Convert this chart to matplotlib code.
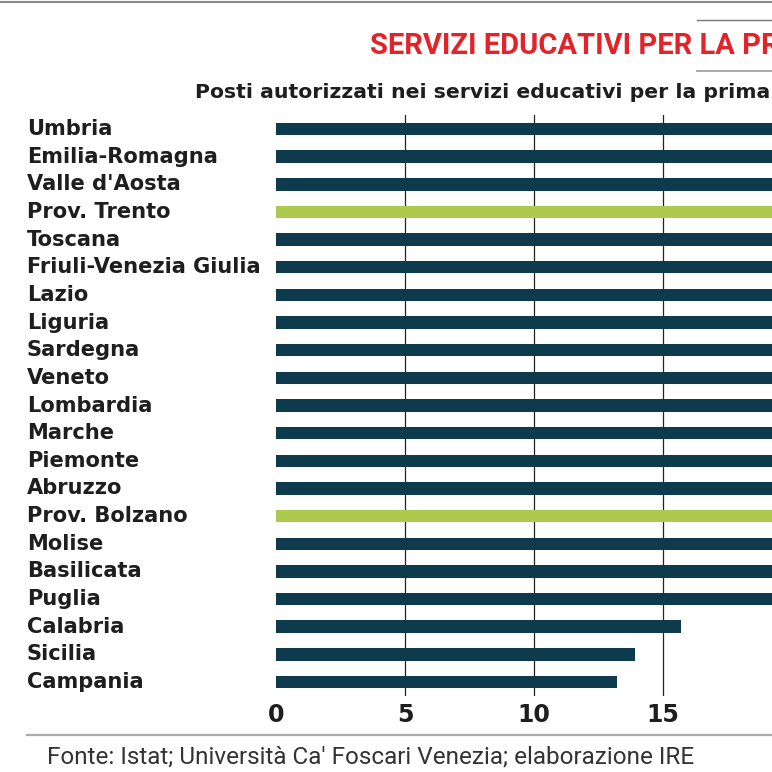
import matplotlib
matplotlib.use("Agg")
import matplotlib.pyplot as plt
from matplotlib.lines import Line2D

regions = ["Umbria", "Emilia-Romagna", "Valle d'Aosta", "Prov. Trento", "Toscana",
           "Friuli-Venezia Giulia", "Lazio", "Liguria", "Sardegna", "Veneto",
           "Lombardia", "Marche", "Piemonte", "Abruzzo", "Prov. Bolzano", "Molise",
           "Basilicata", "Puglia", "Calabria", "Sicilia", "Campania"]
values = [44.5, 41.4, 40.9, 40.2, 38.9, 35.7, 35.3, 32.4, 31.8, 31.3, 30.9, 30.6,
          29.6, 25.1, 24.9, 23.5, 22.8, 21.2, 15.7, 13.9, 13.2]
highlight = ["Prov. Trento", "Prov. Bolzano"]
xticks = [0, 5, 10, 15]

title = "SERVIZI EDUCATIVI PER LA PRIMA INFANZIA"
subtitle = "Posti autorizzati nei servizi educativi per la prima infanzia ogni 100 bambini"
source = "Fonte: Istat; Università Ca' Foscari Venezia; elaborazione IRE"

DARK = "#0d3a4d"
GREEN = "#adc94e"
RED = "#e2232a"
TXT = "#1e1e1e"

W = H = 772
fig = plt.figure(figsize=(W / 100, H / 100), dpi=100)
fig.patch.set_facecolor("white")

def fx(px): return px / W
def fy(py): return 1 - py / H

ppu = 25.8
xmax = 46
left_px = 276
top_px, bot_px = 115.2, 695.8
ax = fig.add_axes([fx(left_px), fy(bot_px), xmax * ppu / W, (bot_px - top_px) / H])
ax.set_xlim(0, xmax)
ax.set_ylim(len(regions) - 0.5, -0.5)

colors = [GREEN if r in highlight else DARK for r in regions]
ax.barh(range(len(regions)), values, height=0.45, color=colors, zorder=2)
for t in xticks[1:]:
    ax.axvline(t, color="#222222", lw=0.9, zorder=1)

for s in ax.spines.values():
    s.set_visible(False)
ax.set_xticks(xticks)
ax.set_xticklabels([str(t) for t in xticks], fontfamily="DejaVu Sans", fontweight="bold",
                   fontsize=17, color=TXT)
ax.tick_params(axis="x", length=0, pad=5)
ax.set_yticks([])
for i, r in enumerate(regions):
    fig.text(fx(27), fy(top_px + (i + 0.5) * (bot_px - top_px) / len(regions)), r,
             ha="left", va="center", fontfamily="DejaVu Sans", fontweight="bold",
             fontsize=15.1, color=TXT)

# decorations
fig.add_artist(Line2D([0, 1], [fy(1.5), fy(1.5)], color="#8a8a8a", lw=1.5))
fig.add_artist(Line2D([fx(697), 1], [fy(20), fy(20)], color="#777777", lw=1.0))
fig.add_artist(Line2D([fx(697), 1], [fy(70.5), fy(70.5)], color="#999999", lw=1.2))
fig.add_artist(Line2D([fx(27), 1], [fy(735), fy(735)], color="#aaaaaa", lw=1.6))

fig.text(fx(370), fy(46), title, ha="left", va="center", fontfamily="Roboto",
         fontweight="bold", fontsize=21, color=RED)
fig.text(fx(195), fy(92), subtitle, ha="left", va="center", fontfamily="DejaVu Sans",
         fontweight="bold", fontsize=14.7, color=TXT)
fig.text(fx(47), fy(757), source, ha="left", va="center", fontfamily="Roboto",
         fontsize=17.5, color="#333333")

fig.savefig("out.png", dpi=100)
